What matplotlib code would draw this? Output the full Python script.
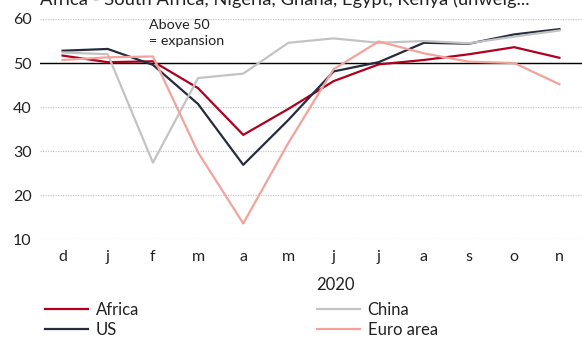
import matplotlib.pyplot as plt
from matplotlib.lines import Line2D

months = ["d", "j", "f", "m", "a", "m", "j", "j", "a", "s", "o", "n"]
africa = [51.7, 50.2, 50.4, 44.3, 33.7, 39.6, 45.9, 49.7, 50.7, 52.0, 53.6, 51.2]
us = [52.8, 53.2, 49.6, 40.7, 26.9, 37.1, 48.1, 50.2, 54.6, 54.4, 56.5, 57.7]
china = [52.4, 52.0, 27.4, 46.6, 47.6, 54.6, 55.6, 54.6, 55.0, 54.5, 56.0, 57.4]
euro = [50.7, 51.3, 51.5, 29.7, 13.6, 31.9, 48.6, 54.9, 52.2, 50.3, 50.0, 45.2]

series = [("Africa", africa, "#b0001f"),
          ("US", us, "#272b40"),
          ("China", china, "#c3c3c3"),
          ("Euro area", euro, "#f2a39c")]

plt.rcParams['font.family'] = ['Lato', 'DejaVu Sans']

fig = plt.figure(figsize=(5.82, 3.38), dpi=100)
ax = fig.add_axes([40 / 582, 1 - 239.3 / 338, 542 / 582, (239.3 - 19) / 338])

x = range(len(months))
for name, vals, col in series:
    ax.plot(x, vals, color=col, lw=1.6, label=name, zorder=3)

ax.set_xlim(-0.5, len(months) - 0.5)
ax.set_ylim(10, 60)
ax.set_yticks([10, 20, 30, 40, 50, 60])
ax.set_xticks(list(x))
ax.set_xticklabels(months)
ax.tick_params(length=0, labelsize=11.5, colors="#222222")
ax.tick_params(axis="y", pad=6)
ax.tick_params(axis="x", pad=8)
for s in ax.spines.values():
    s.set_visible(False)
ax.grid(axis="y", color="#c8c8c8", lw=0.9, ls=(0, (1, 1)))
ax.set_axisbelow(True)
ax.axhline(50, color="black", lw=1, zorder=2)

ax.set_xlabel("2020", fontsize=12, color="#222222")
ax.xaxis.set_label_coords((335 - 40) / 542, -0.172)

ax.text((149 - 40) / 542, 1.0, "Above 50\n= expansion", transform=ax.transAxes,
        fontsize=10.3, va="top", ha="left", linespacing=1.42, color="#222222")

fig.text(40 / 582, 1 - 5.5 / 338, "Africa - South Africa, Nigeria, Ghana, Egypt, Kenya (unweig...",
         fontsize=13.2, va="baseline", ha="left", color="#222222")

handles = [Line2D([], [], color=c, lw=1.6) for _, _, c in series]
labels = [n for n, _, _ in series]
for i, x0 in enumerate([45, 317]):
    leg = fig.legend(handles[2 * i:2 * i + 2], labels[2 * i:2 * i + 2], loc="upper left",
                     bbox_to_anchor=(x0 / 582, 1 - 302 / 338), frameon=False,
                     fontsize=12, handlelength=2.58, handletextpad=0.45,
                     labelspacing=0.25, borderaxespad=0, borderpad=0)
    for t in leg.get_texts():
        t.set_color("#222222")

fig.savefig("out.png", dpi=100)
